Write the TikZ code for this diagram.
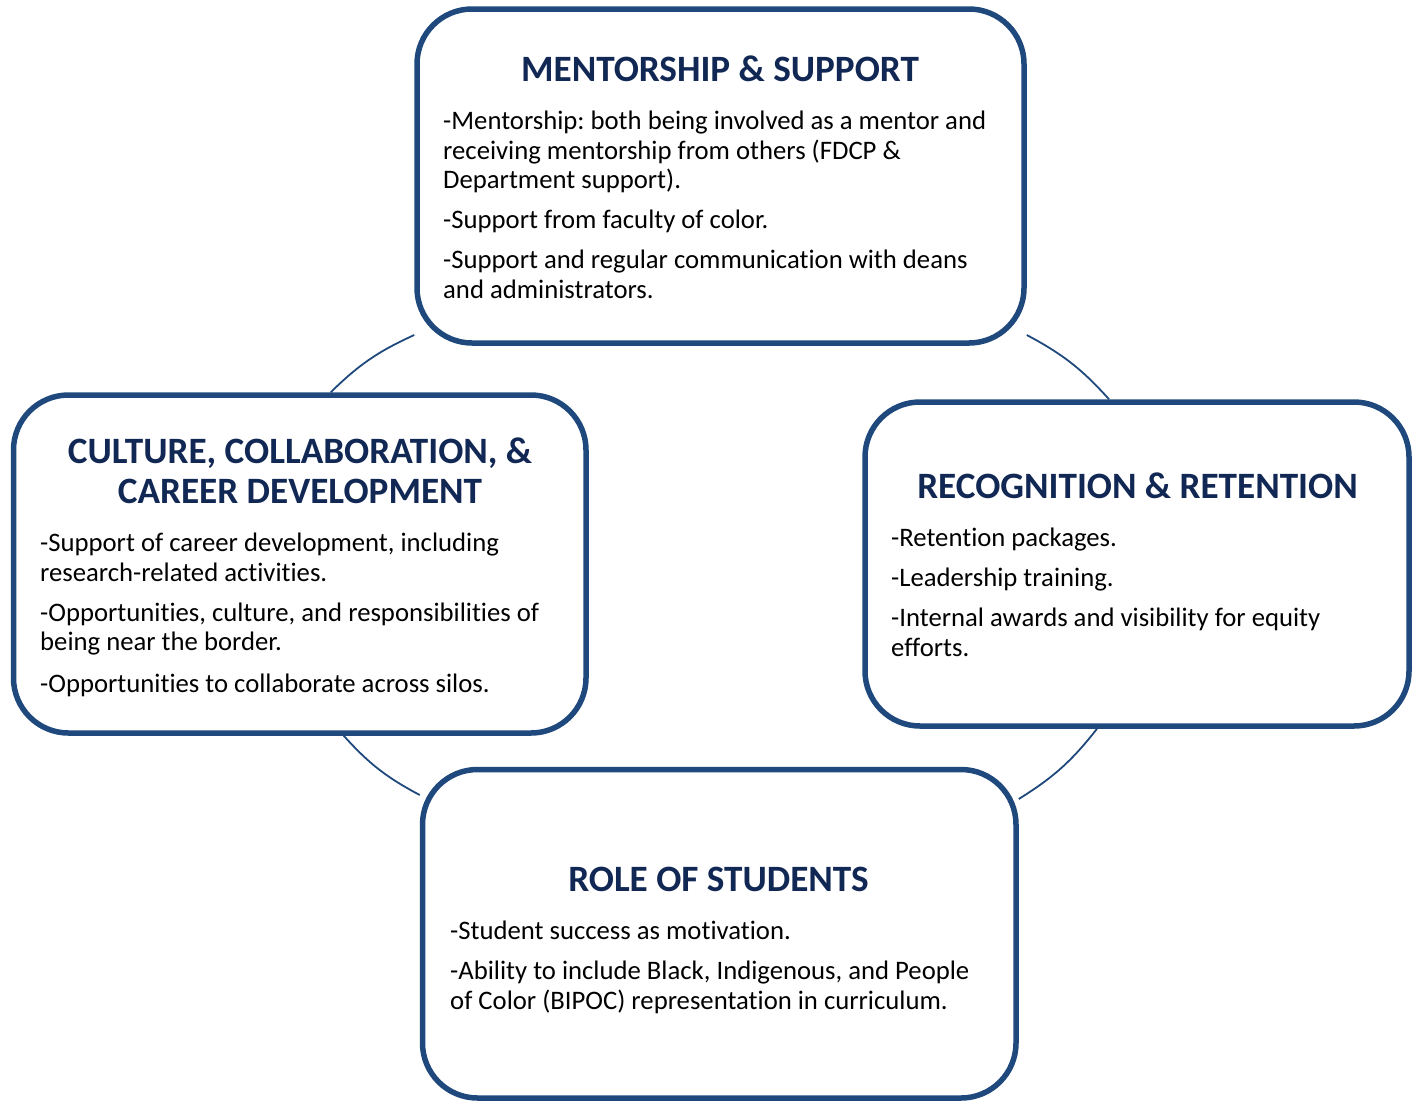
\documentclass[tikz,border=0pt]{standalone}
\usepackage{fontspec}
\setmainfont{Carlito}[Ligatures=NoCommon]
\frenchspacing
\definecolor{frame}{RGB}{31,73,125}
\definecolor{heading}{RGB}{18,40,84}
\begin{document}
\begin{tikzpicture}[x=1pt,y=-1pt,
  panel/.style={draw=frame, line width=5.5pt, rounded corners=55pt,
    rectangle, inner sep=0pt, fill=white},
  headtext/.style={font=\fontsize{37.2}{40}\selectfont\bfseries, text=heading,
    inner sep=0pt, align=center},
  bodytext/.style={font=\fontsize{26.7}{29.5}\selectfont, text=black,
    inner sep=0pt, align=left, anchor=north west},
  link/.style={draw=frame, line width=1.8pt, bend left=10}]
\useasboundingbox (0,0) rectangle (1412,1101);

% four panels
\node[panel, minimum width=607pt, minimum height=334pt] (top) at (720.5,176) {};
\node[panel, minimum width=572.5pt, minimum height=338pt] (left) at (299.75,564) {};
\node[panel, minimum width=544pt, minimum height=324pt] (right) at (1137,564) {};
\node[panel, minimum width=593.5pt, minimum height=328.5pt] (bottom) at (719.25,933.75) {};

% connecting arcs
\coordinate (a1) at ([xshift=31pt]left.north);
\coordinate (a2) at ([yshift=-159pt]top.west);
\coordinate (b1) at ([yshift=-159pt]top.east);
\coordinate (b2) at ([xshift=-28pt]right.north);
\coordinate (c1) at ([xshift=-40pt]right.south);
\coordinate (c2) at ([yshift=134.75pt]bottom.east);
\coordinate (d1) at ([yshift=138.75pt]bottom.west);
\coordinate (d2) at ([xshift=44pt]left.south);
\draw[link] (a1) to (a2);
\draw[link] (b1) to (b2);
\draw[link] (c1) to (c2);
\draw[link] (d1) to (d2);

% headings
\node[headtext, anchor=base] (th) at (720,81.5) {MENTORSHIP \& SUPPORT};
\node[headtext, anchor=base] (lh1) at (300,463.5) {CULTURE, COLLABORATION, \&};
\node[headtext, anchor=base] (lh2) at (300,503.5) {CAREER DEVELOPMENT};
\node[headtext, anchor=base] (rh) at (1137.5,498.5) {RECOGNITION \& RETENTION};
\node[headtext, anchor=base] (bh) at (718.5,891.5) {ROLE OF STUDENTS};

% body texts
\node[bodytext] (tb) at (443,111) {-Mentorship: both being involved as a mentor and\\
receiving mentorship from others (FDCP \&\\
Department support).\\[10.5pt]
-Support from faculty of color.\\[10.5pt]
-Support and regular communication with deans\\
and administrators.};

\node[bodytext] (lb) at (40,533) {-Support of career development, including\\
research-related activities.\\[10.5pt]
-Opportunities, culture, and responsibilities of\\
being near the border.\\[12pt]
-Opportunities to collaborate across silos.};

\node[bodytext] (rb) at (891,528) {-Retention packages.\\[10.5pt]
-Leadership training.\\[10.5pt]
-Internal awards and visibility for equity\\
efforts.};

\node[bodytext] (bb) at (450,921) {-Student success as motivation.\\[10.5pt]
-Ability to include Black, Indigenous, and People\\
of Color (BIPOC) representation in curriculum.};
\end{tikzpicture}
\end{document}
